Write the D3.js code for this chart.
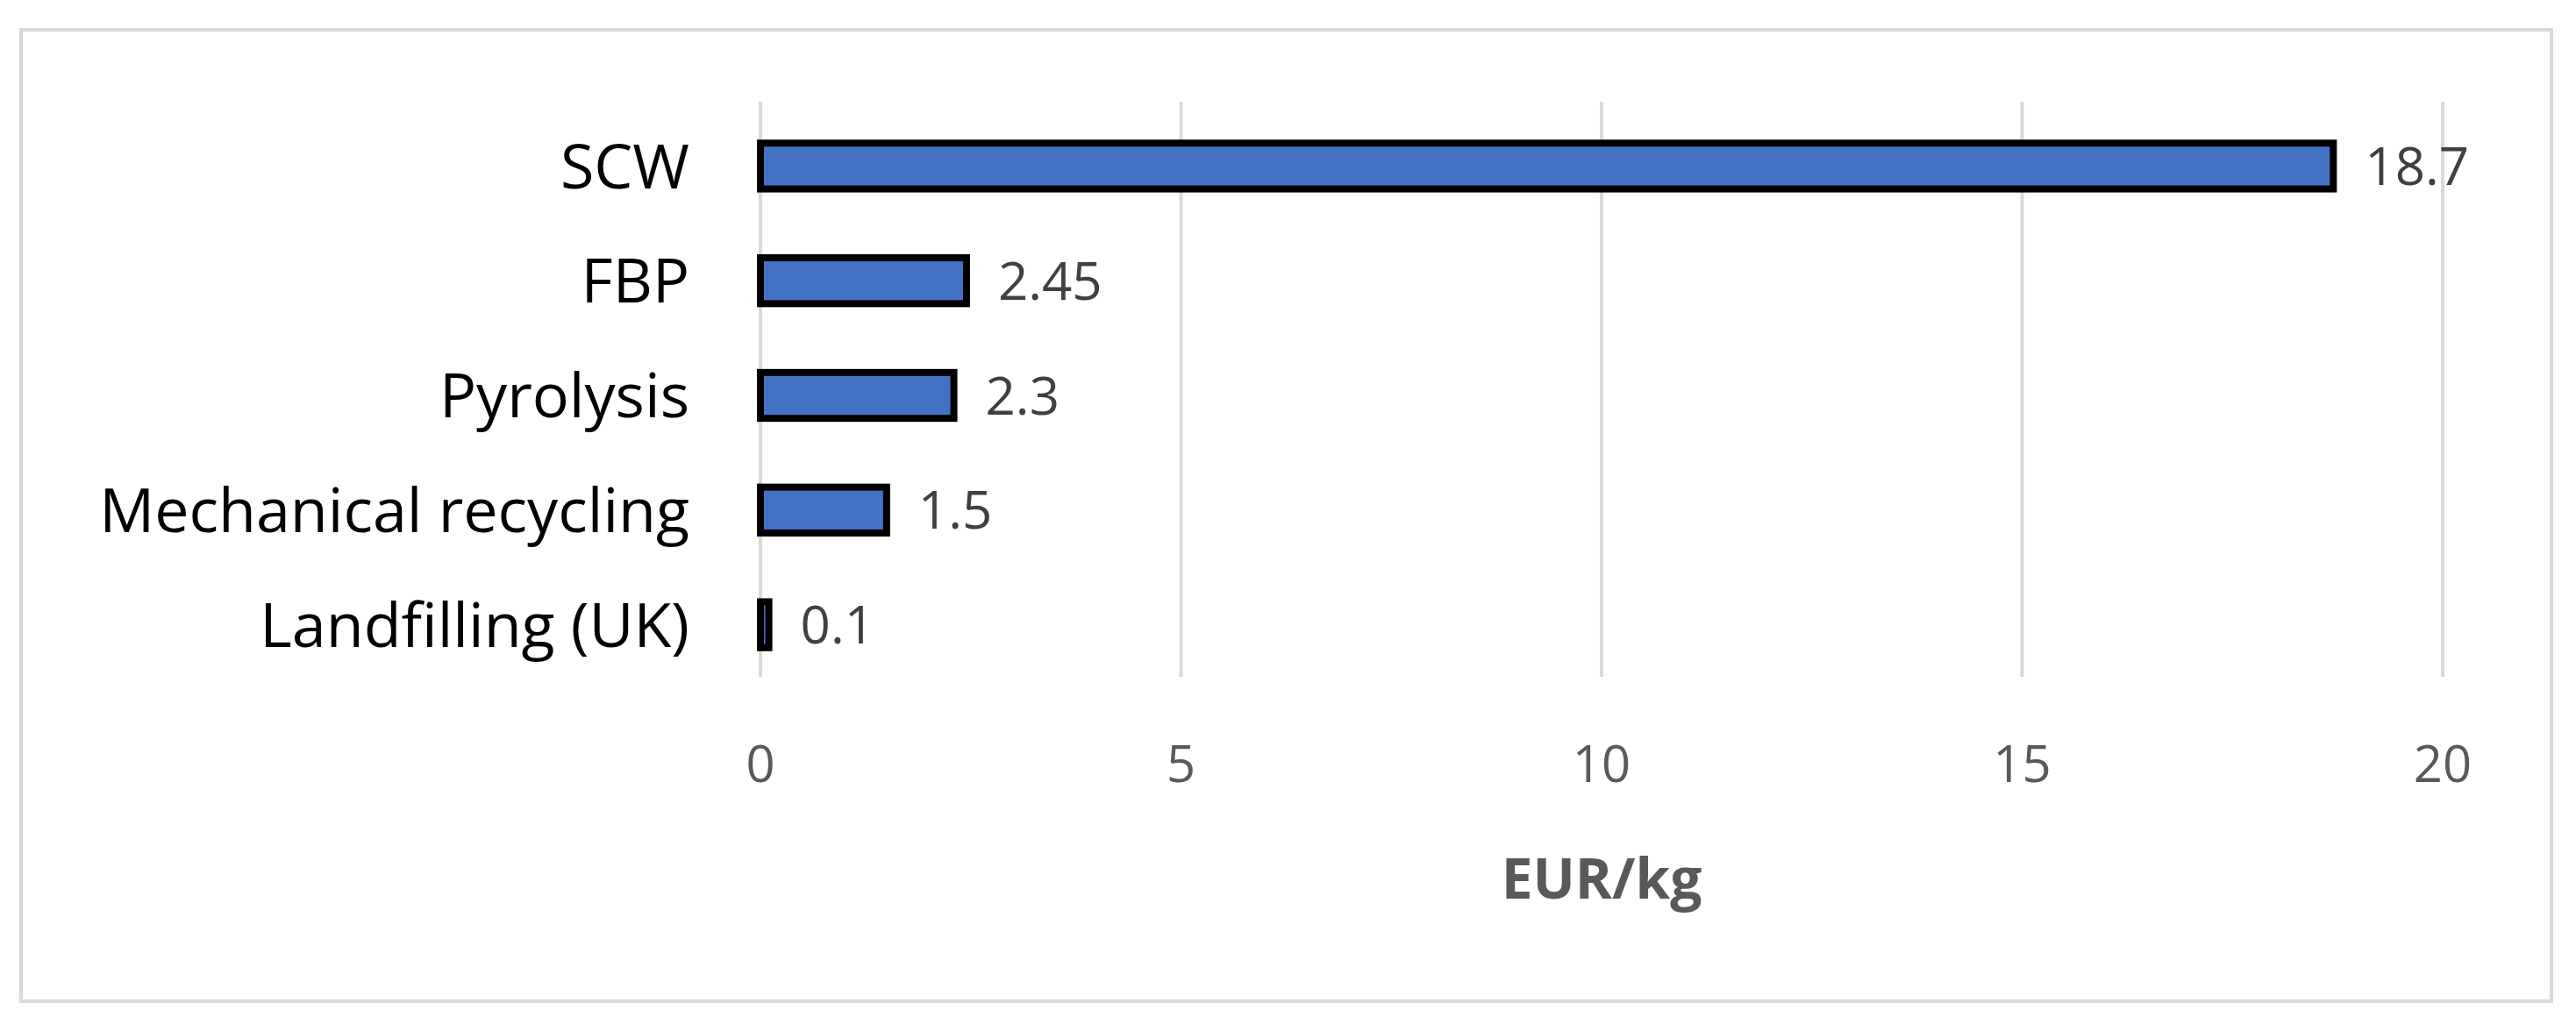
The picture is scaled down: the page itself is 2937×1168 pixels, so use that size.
<!DOCTYPE html>
<html><head><meta charset="utf-8">
<script src="https://cdn.jsdelivr.net/npm/d3@7"></script>
<style>body{margin:0;background:#fff}</style></head>
<body><svg id="c" width="2937" height="1168"></svg>
<script>
const categories = ["SCW","FBP","Pyrolysis","Mechanical recycling","Landfilling (UK)"];
const values = [18.7, 2.45, 2.3, 1.5, 0.1];
const labels = ["18.7","2.45","2.3","1.5","0.1"];
const ticks = [0,5,10,15,20];
const axisTitle = "EUR/kg";

const svg = d3.select("#c");
const font = "'Open Sans', 'Noto Sans', sans-serif";
svg.append("rect").attr("x",24).attr("y",34).attr("width",2885).attr("height",1108)
  .attr("fill","#fff").attr("stroke","#d9d9d9").attr("stroke-width",4);

const x = d3.scaleLinear().domain([0,20]).range([867,2785]);
const y = d3.scaleBand().domain(categories).range([124,778]).paddingInner(0.6).paddingOuter(0.3);

svg.append("g").selectAll("line").data(ticks).join("line")
  .attr("x1",d=>x(d)).attr("x2",d=>x(d)).attr("y1",116).attr("y2",772)
  .attr("stroke","#d9d9d9").attr("stroke-width",4);

svg.append("g").selectAll("rect").data(values).join("rect")
  .attr("x",x(0)).attr("y",(d,i)=>y(categories[i]))
  .attr("width",d=>x(d)-x(0)).attr("height",y.bandwidth())
  .attr("fill","#4472c4").attr("stroke","#000").attr("stroke-width",8);

svg.append("g").selectAll("text").data(values).join("text")
  .attr("x",d=>x(d)+36).attr("y",(d,i)=>y(categories[i])+y.bandwidth()/2)
  .attr("dy","0.36em").attr("font-family",font).attr("font-size",60).attr("fill","#404040")
  .text((d,i)=>labels[i]);

svg.append("g").selectAll("text").data(categories).join("text")
  .attr("x",786).attr("y",d=>y(d)+y.bandwidth()/2).attr("dy","0.36em")
  .attr("text-anchor","end").attr("font-family",font).attr("font-size",70).attr("fill","#000")
  .text(d=>d);

svg.append("g").selectAll("text").data(ticks).join("text")
  .attr("x",d=>x(d)).attr("y",871).attr("dy","0.36em").attr("text-anchor","middle")
  .attr("font-family",font).attr("font-size",58).attr("fill","#595959").text(d=>d);

svg.append("text").attr("x",(x(0)+x(20))/2).attr("y",1002).attr("dy","0.36em")
  .attr("text-anchor","middle").attr("font-family",font).attr("font-size",64)
  .attr("font-weight","bold").attr("fill","#595959").text(axisTitle);
</script></body></html>
